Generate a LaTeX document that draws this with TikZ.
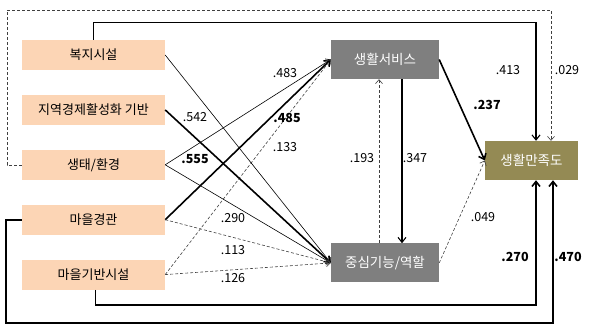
\documentclass[tikz,border=0pt]{standalone}
\usepackage{fontspec}
\setmainfont{Noto Sans CJK KR}
\usetikzlibrary{arrows.meta, positioning}
\definecolor{peach}{RGB}{252,213,181}
\definecolor{boxgray}{RGB}{127,127,127}
\definecolor{satolive}{RGB}{148,138,84}
\tikzstyle{factor} = [rectangle, fill=peach, text centered, minimum width=143pt, minimum height=30pt, inner sep=0pt, font=\fontsize{13}{15}\selectfont]
\tikzstyle{mediator} = [rectangle, fill=boxgray, text=white, text centered, minimum width=108pt, minimum height=39pt, inner sep=0pt, font=\fontsize{13.5}{15}\selectfont]
\tikzstyle{outcome} = [rectangle, fill=satolive, text=white, text centered, minimum width=93pt, minimum height=39pt, inner sep=0pt, font=\fontsize{13.5}{15}\selectfont]
\tikzstyle{weight} = [inner sep=0pt, font=\fontsize{12.5}{14}\selectfont]
\tikzstyle{sig} = [inner sep=0pt, font=\fontsize{12.5}{14}\selectfont\bfseries]
\tikzstyle{thinpath} = [-{Straight Barb[length=4pt,width=7pt]}, line width=0.6pt]
\tikzstyle{midpath} = [-{Straight Barb[length=5pt,width=8pt]}, line width=1.1pt]
\tikzstyle{boldpath} = [-{Straight Barb[length=5pt,width=8pt]}, line width=1.6pt]
\tikzstyle{dashpath} = [-{Straight Barb[length=4pt,width=7pt]}, line width=0.6pt, dash pattern=on 3pt off 2pt, black!75]

\begin{document}
\begin{tikzpicture}[x=1pt, y=1pt, node distance=24.5pt]
	\useasboundingbox (0,0) rectangle (594,-325);

	% Left factors
	\node (welfare) [factor] at (93.5,-55) {복지시설};
	\node (economy) [factor, below=of welfare] {지역경제활성화 기반};
	\node (eco) [factor, below=of economy] {생태/환경};
	\node (scenery) [factor, below=of eco] {마을경관};
	\node (base) [factor, below=of scenery] {마을기반시설};

	% Mediators and outcome
	\node (service) [mediator] at (385,-59.5) {생활서비스};
	\node (core) [mediator, below=164pt of service] {중심기능/역할};
	\node (sat) [outcome] at (531.5,-160.5) {생활만족도};

	% Corner points of the long paths
	\coordinate (frame_top) at (551,-10);
	\coordinate (welfare_top) at (536,-22.7);
	\coordinate (scenery_low) at (553,-323);
	\coordinate (base_low) at (536,-305);

	% Arrows - to service
	\draw[thinpath] (eco.east) -- (service.west);
	\draw[boldpath] (scenery.east) -- (service.west);
	\draw[dashpath] (base.east) -- (service.west);

	% Arrows - to core
	\draw[thinpath] (welfare.east) -- (core.west);
	\draw[boldpath] (economy.east) -- (core.west);
	\draw[thinpath] (eco.east) -- (core.west);
	\draw[dashpath] (scenery.east) -- (core.west);
	\draw[dashpath] (base.east) -- (core.west);

	% Between mediators
	\draw[midpath] ([xshift=17pt]service.south) -- ([xshift=17pt]core.north);
	\draw[dashpath] ([xshift=-6pt]core.north) -- ([xshift=-6pt]service.south);

	% Arrows - to satisfaction
	\draw[boldpath] (service.east) -- (sat.west);
	\draw[dashpath] (core.east) -- (sat.west);
	\draw[midpath] (welfare.north) |- (welfare_top) -- (welfare_top |- sat.north);
	\draw[dashpath] (eco.west) -- ++(-15,0) |- (frame_top) -- (frame_top |- sat.north);
	\draw[boldpath] (scenery.west) -- ++(-16,0) |- (scenery_low) -- (scenery_low |- sat.south);
	\draw[boldpath] ([xshift=2pt]base.south) |- (base_low) -- (base_low |- sat.south);

	% Path weights
	\node (w542) [weight] at (195,-117) {.542};
	\node (w483) [weight] at (285,-73) {.483};
	\node (w485) [sig] at (287,-118) {.485};
	\node (w133) [weight] at (285,-147) {.133};
	\node (w555) [sig] at (195,-159) {.555};
	\node (w290) [weight] at (233,-218) {.290};
	\node (w113) [weight] at (233,-250) {.113};
	\node (w126) [weight] at (233,-278) {.126};
	\node (w193) [weight] at (362,-158) {.193};
	\node (w347) [weight] at (415,-158) {.347};
	\node (w237) [sig] at (487,-105) {.237};
	\node (w049) [weight] at (483,-217) {.049};
	\node (w413) [weight] at (508,-70) {.413};
	\node (w029) [weight] at (567,-70) {.029};
	\node (w270) [sig] at (515,-257) {.270};
	\node (w470) [sig] at (568,-257) {.470};

\end{tikzpicture}
\end{document}
